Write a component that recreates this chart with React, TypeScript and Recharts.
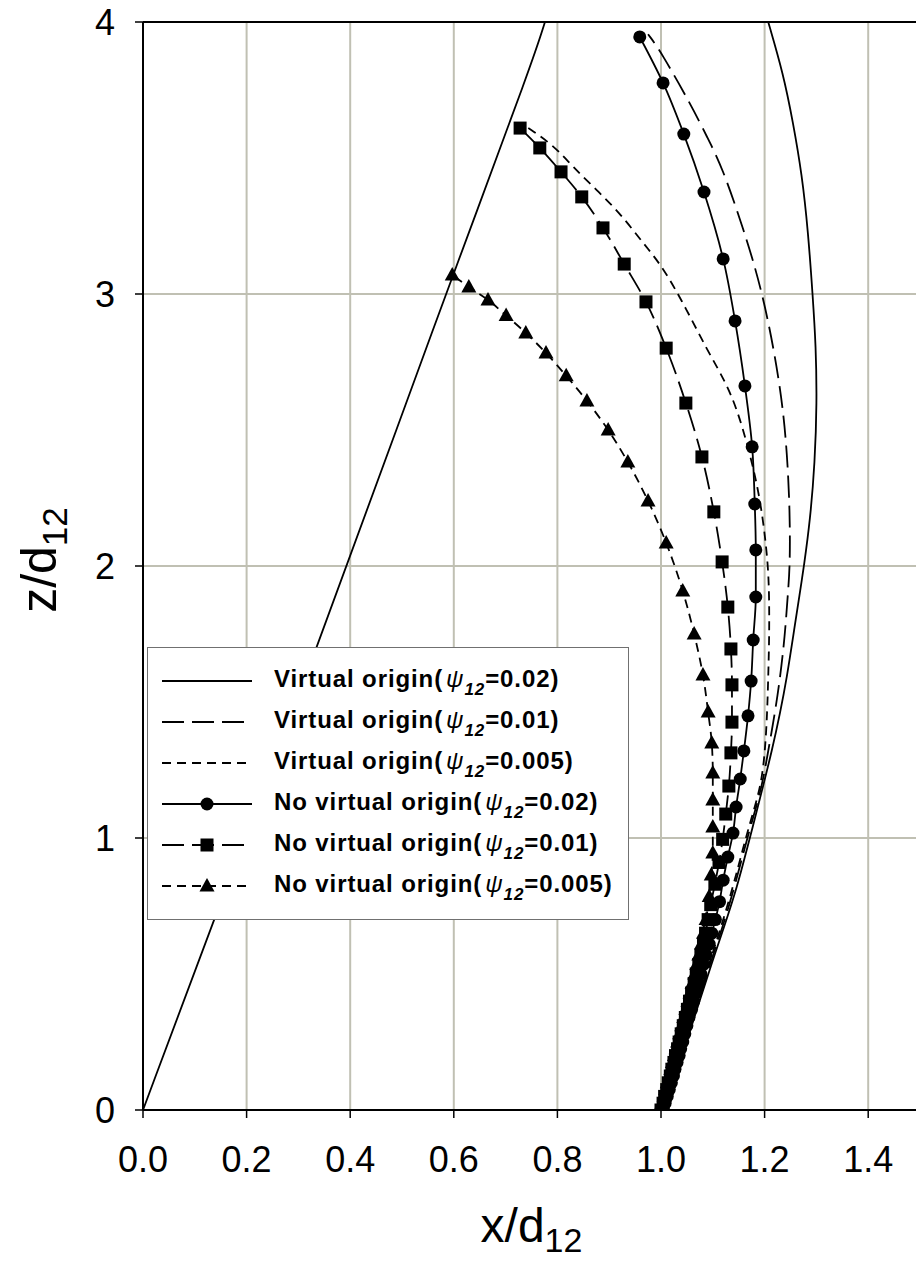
import React from 'react';
import { ComposedChart, Line, XAxis, YAxis, CartesianGrid, ReferenceLine, Legend, Label } from 'recharts';

type Pt = [number, number]; // [x/d12, z/d12]

const X_TICKS = [0, 0.2, 0.4, 0.6, 0.8, 1.0, 1.2, 1.4];
const Z_TICKS = [0, 1, 2, 3, 4];

// Straight boundary running up from the origin
const wallLine: Pt[] = [
  [0, 0], [0.135, 0.69], [0.338, 1.71], [0.498, 2.548], [0.602, 3.088],
  [0.753, 3.86], [0.776, 4.0],
];

// Virtual origin, psi12 = 0.02
const virtual002: Pt[] = [
  [1.0, 0], [1.031, 0.136], [1.052, 0.268], [1.075, 0.404], [1.098, 0.54],
  [1.12, 0.662], [1.147, 0.82], [1.166, 0.96], [1.181, 1.07], [1.197, 1.19],
  [1.214, 1.32], [1.23, 1.46], [1.243, 1.59], [1.255, 1.74], [1.268, 1.9],
  [1.276, 2.0], [1.288, 2.17], [1.297, 2.38], [1.301, 2.6], [1.299, 2.81],
  [1.293, 2.99], [1.284, 3.23], [1.272, 3.44], [1.255, 3.63], [1.236, 3.81],
  [1.207, 4.0],
];

// Virtual origin, psi12 = 0.01
const virtual001: Pt[] = [
  [1.0, 0], [1.03, 0.14], [1.05, 0.27], [1.073, 0.4], [1.095, 0.54],
  [1.117, 0.66], [1.142, 0.82], [1.161, 0.96], [1.177, 1.07], [1.195, 1.19],
  [1.207, 1.32], [1.22, 1.46], [1.23, 1.59], [1.239, 1.74], [1.245, 1.9],
  [1.249, 2.0], [1.249, 2.195], [1.243, 2.438], [1.23, 2.673], [1.197, 3.004],
  [1.158, 3.246], [1.118, 3.467], [1.089, 3.577], [1.06, 3.688], [0.998, 3.897],
  [0.975, 3.955],
];

// Virtual origin, psi12 = 0.005
const virtual0005: Pt[] = [
  [1.0, 0], [1.029, 0.14], [1.049, 0.27], [1.071, 0.4], [1.093, 0.54],
  [1.114, 0.66], [1.139, 0.82], [1.158, 0.96], [1.174, 1.07], [1.193, 1.19],
  [1.201, 1.32], [1.205, 1.46], [1.207, 1.59], [1.209, 1.74], [1.209, 1.875],
  [1.207, 1.996], [1.199, 2.143], [1.187, 2.29], [1.168, 2.438], [1.149, 2.563],
  [1.126, 2.673], [1.089, 2.794], [1.05, 2.941], [1.004, 3.099], [0.965, 3.188],
  [0.921, 3.297], [0.876, 3.382], [0.83, 3.467], [0.792, 3.548], [0.741, 3.614],
];

// No virtual origin, psi12 = 0.02
const noVirtual002: Pt[] = [
  [1.0, 0], [1.008, 0.025], [1.012, 0.05], [1.016, 0.075], [1.02, 0.1],
  [1.024, 0.125], [1.027, 0.15], [1.031, 0.175], [1.035, 0.2], [1.038, 0.225],
  [1.042, 0.25], [1.046, 0.28], [1.05, 0.31], [1.054, 0.34], [1.059, 0.37],
  [1.063, 0.4], [1.067, 0.43], [1.072, 0.465], [1.077, 0.5], [1.082, 0.535],
  [1.087, 0.57], [1.093, 0.61], [1.098, 0.65], [1.105, 0.7], [1.113, 0.766],
  [1.12, 0.845], [1.129, 0.93], [1.139, 1.018], [1.145, 1.114], [1.153, 1.217],
  [1.16, 1.32], [1.168, 1.449], [1.174, 1.577], [1.178, 1.728], [1.183, 1.886],
  [1.183, 2.059], [1.181, 2.228], [1.176, 2.438], [1.162, 2.662], [1.143, 2.901],
  [1.12, 3.129], [1.083, 3.375], [1.044, 3.588], [1.004, 3.776], [0.959, 3.945],
];

// No virtual origin, psi12 = 0.01
const noVirtual001: Pt[] = [
  [1.0, 0], [1.004, 0.025], [1.007, 0.05], [1.011, 0.075], [1.014, 0.1],
  [1.018, 0.125], [1.021, 0.15], [1.025, 0.175], [1.028, 0.2], [1.032, 0.225],
  [1.035, 0.25], [1.039, 0.28], [1.043, 0.31], [1.047, 0.34], [1.051, 0.37],
  [1.055, 0.4], [1.059, 0.43], [1.064, 0.465], [1.068, 0.5], [1.073, 0.535],
  [1.077, 0.57], [1.082, 0.61], [1.086, 0.65], [1.091, 0.7], [1.096, 0.755],
  [1.104, 0.83], [1.112, 0.91], [1.119, 0.995], [1.125, 1.088], [1.131, 1.191],
  [1.135, 1.313], [1.137, 1.426], [1.137, 1.563], [1.135, 1.695], [1.129, 1.849],
  [1.118, 2.015], [1.102, 2.199], [1.079, 2.401], [1.048, 2.599], [1.01, 2.801],
  [0.971, 2.971], [0.929, 3.11], [0.888, 3.243], [0.847, 3.357], [0.807, 3.449],
  [0.766, 3.537], [0.728, 3.61],
];

// No virtual origin, psi12 = 0.005
const noVirtual0005: Pt[] = [
  [1.0, 0], [1.003, 0.025], [1.006, 0.05], [1.009, 0.075], [1.012, 0.1],
  [1.016, 0.125], [1.019, 0.15], [1.022, 0.175], [1.026, 0.2], [1.029, 0.225],
  [1.032, 0.25], [1.036, 0.28], [1.04, 0.31], [1.044, 0.34], [1.048, 0.37],
  [1.052, 0.4], [1.056, 0.43], [1.06, 0.465], [1.065, 0.5], [1.069, 0.535],
  [1.073, 0.57], [1.078, 0.61], [1.082, 0.65], [1.087, 0.7], [1.093, 0.785],
  [1.097, 0.864], [1.1, 0.945], [1.1, 1.04], [1.1, 1.14], [1.1, 1.239],
  [1.098, 1.349], [1.091, 1.463], [1.081, 1.599], [1.064, 1.75], [1.042, 1.908],
  [1.01, 2.085], [0.975, 2.239], [0.936, 2.382], [0.898, 2.5], [0.857, 2.607],
  [0.817, 2.699], [0.778, 2.783], [0.739, 2.857], [0.701, 2.921], [0.666, 2.978],
  [0.629, 3.026], [0.597, 3.07],
];

const FONT = '"Liberation Sans", Arial, Helvetica, sans-serif';
const GRID = '#c0c0b3';
const LONG_DASH = '22 8';
const SHORT_DASH = '9 6';

type Marker = 'none' | 'circle' | 'square' | 'triangle';

interface SeriesDef {
  key: string;
  label: string;
  psi: string;
  points: Pt[];
  dash?: string;
  marker: Marker;
}

const SERIES: SeriesDef[] = [
  { key: 'v002', label: 'Virtual origin', psi: '0.02', points: virtual002, marker: 'none' },
  { key: 'v001', label: 'Virtual origin', psi: '0.01', points: virtual001, dash: LONG_DASH, marker: 'none' },
  { key: 'v0005', label: 'Virtual origin', psi: '0.005', points: virtual0005, dash: SHORT_DASH, marker: 'none' },
  { key: 'n002', label: 'No virtual origin', psi: '0.02', points: noVirtual002, marker: 'circle' },
  { key: 'n001', label: 'No virtual origin', psi: '0.01', points: noVirtual001, dash: LONG_DASH, marker: 'square' },
  { key: 'n0005', label: 'No virtual origin', psi: '0.005', points: noVirtual0005, dash: SHORT_DASH, marker: 'triangle' },
];

const toRows = (pts: Pt[]) => pts.map(([x, z]) => ({ x, z }));

function markerShape(marker: Marker, cx: number, cy: number, key: string | number) {
  if (marker === 'circle') return <circle key={key} cx={cx} cy={cy} r={6.5} fill="#000" />;
  if (marker === 'square') return <rect key={key} x={cx - 6.5} y={cy - 6.5} width={13} height={13} fill="#000" />;
  if (marker === 'triangle')
    return <path key={key} d={`M${cx},${cy - 8}L${cx + 7.5},${cy + 5.5}L${cx - 7.5},${cy + 5.5}Z`} fill="#000" />;
  return <g key={key} />;
}

const makeDot = (marker: Marker) => (p: any) => {
  const k = `dot-${p.index}`;
  if (p.cx == null || p.cy == null) return <g key={k} />;
  return markerShape(marker, p.cx, p.cy, k);
};

const XTitle = (props: any) => {
  const vb = props.viewBox || { x: 143, y: 1110, width: 777, height: 153 };
  const cx = vb.x + vb.width / 2;
  return (
    <text x={cx} y={vb.y + 132} textAnchor="middle" fontFamily={FONT} fontSize={48} fill="#000">
      x/d<tspan fontSize={34} dy={10}>12</tspan>
    </text>
  );
};

const YTitle = (props: any) => {
  const vb = props.viewBox || { x: 0, y: 22, width: 143, height: 1088 };
  const cy = vb.y + vb.height / 2 - 6;
  const bx = 56;
  return (
    <text
      x={bx}
      y={cy}
      transform={`rotate(-90, ${bx}, ${cy})`}
      textAnchor="middle"
      fontFamily={FONT}
      fontSize={50}
      fill="#000"
    >
      z/d<tspan fontSize={35} dy={11}>12</tspan>
    </text>
  );
};

const LegendBox = () => (
  <div
    style={{
      width: 482,
      height: 273,
      boxSizing: 'border-box',
      border: '1.5px solid #707070',
      background: '#fff',
      padding: '12px 0 0 14px',
      fontFamily: FONT,
      color: '#000',
    }}
  >
    {SERIES.map((s) => (
      <div key={s.key} style={{ display: 'flex', alignItems: 'center', height: 41 }}>
        <svg width={92} height={20} style={{ display: 'block', flex: 'none' }}>
          <line x1={0} y1={10} x2={90} y2={10} stroke="#000" strokeWidth={2} strokeDasharray={s.dash} />
          {markerShape(s.marker, 45, 10, 'm')}
        </svg>
        <span
          style={{
            marginLeft: 20,
            fontSize: 24,
            fontWeight: 'bold',
            letterSpacing: 0.9,
            whiteSpace: 'nowrap',
            lineHeight: '24px',
          }}
        >
          {s.label}(
          <span style={{ fontStyle: 'italic', fontWeight: 'normal', marginLeft: 3 }}>ψ</span>
          <span style={{ fontStyle: 'italic', fontSize: 17, position: 'relative', top: 8 }}>12</span>
          ={s.psi})
        </span>
      </div>
    ))}
  </div>
);

export default function App() {
  return (
    <div style={{ position: 'absolute', left: 0, top: 0, width: 916, height: 1263, overflow: 'hidden', background: '#fff' }}>
      <ComposedChart width={925} height={1263} margin={{ top: 22, right: 5, bottom: 0, left: 0 }}>
        <CartesianGrid stroke={GRID} strokeWidth={2} horizontalValues={Z_TICKS} verticalValues={X_TICKS} />
        <XAxis
          type="number"
          dataKey="x"
          domain={[0, 1.5]}
          ticks={X_TICKS}
          allowDataOverflow
          tickFormatter={(v: number) => v.toFixed(1)}
          height={153}
          tickSize={8}
          tickMargin={28}
          axisLine={{ stroke: '#000', strokeWidth: 2 }}
          tickLine={{ stroke: '#000', strokeWidth: 1.5 }}
          tick={{ fill: '#000', fontSize: 36, fontFamily: FONT }}
        >
          <Label content={<XTitle />} />
        </XAxis>
        <YAxis
          type="number"
          dataKey="z"
          domain={[0, 4]}
          ticks={Z_TICKS}
          allowDataOverflow
          width={143}
          tickSize={8}
          tickMargin={20}
          axisLine={{ stroke: '#000', strokeWidth: 2 }}
          tickLine={{ stroke: '#000', strokeWidth: 1.5 }}
          tick={{ fill: '#000', fontSize: 36, fontFamily: FONT }}
        >
          <Label content={<YTitle />} />
        </YAxis>
        <ReferenceLine y={4} stroke="#000" strokeWidth={2} />
        <Line
          data={toRows(wallLine)}
          dataKey="z"
          type="basis"
          stroke="#000"
          strokeWidth={1.8}
          dot={false}
          activeDot={false}
          legendType="none"
          isAnimationActive={false}
        />
        {SERIES.map((s) => (
          <Line
            key={s.key}
            name={`${s.label}(ψ12=${s.psi})`}
            data={toRows(s.points)}
            dataKey="z"
            type={s.marker === 'none' ? 'basis' : 'monotoneY'}
            stroke="#000"
            strokeWidth={1.8}
            strokeDasharray={s.dash}
            dot={s.marker === 'none' ? false : makeDot(s.marker)}
            activeDot={false}
            isAnimationActive={false}
          />
        ))}
        <Legend
          layout="vertical"
          align="center"
          verticalAlign="middle"
          content={<LegendBox />}
          wrapperStyle={{ left: 147, top: 647, width: 482, height: 273 }}
        />
      </ComposedChart>
    </div>
  );
}
